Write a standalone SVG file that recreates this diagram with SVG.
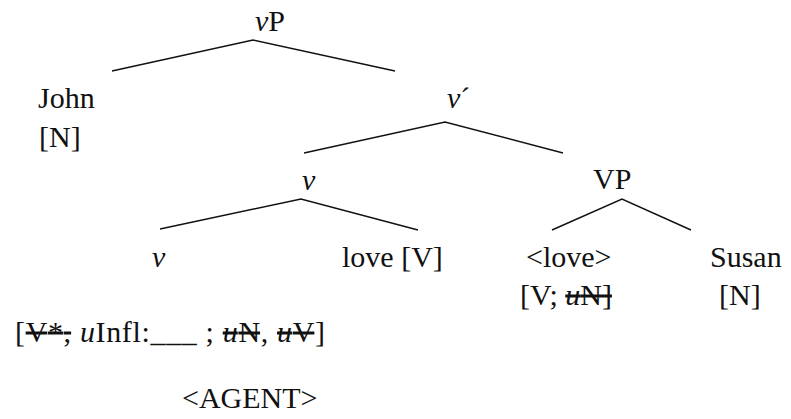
<svg xmlns="http://www.w3.org/2000/svg" width="791" height="419" viewBox="0 0 791 419">
<style>
text{font-family:"Liberation Serif","Times New Roman",serif;font-size:30px;fill:#111;}
.i{font-style:italic;}
.s{text-decoration:line-through;}
.edge{fill:none;stroke:#111;stroke-width:1.4;}
</style>
<rect width="791" height="419" fill="#fff"/>
<g id="connectors">
<polyline class="edge" points="112,71 253,40 395,71"/>
<polyline class="edge" points="304,153 445,122 563,153"/>
<polyline class="edge" points="160,229 301,199 418,230"/>
<polyline class="edge" points="552,230 622,199 691,230"/>
</g>
<g id="node-vP"><text x="255" y="31"><tspan class="i">v</tspan>P</text></g>
<g id="node-John"><text x="38" y="108">John</text><text x="39" y="147">[N]</text></g>
<g id="node-vbar"><text x="447" y="108"><tspan class="i">v</tspan>´</text></g>
<g id="node-v"><text x="302" y="190" class="i">v</text></g>
<g id="node-VP"><text x="593" y="189">VP</text></g>
<g id="node-v-leaf"><text x="152" y="267" class="i">v</text></g>
<g id="node-love"><text x="342" y="267">love [V]</text></g>
<g id="node-love-trace"><text x="526" y="267">&lt;love&gt;</text><text x="520" y="305">[V; <tspan class="s"><tspan class="i">u</tspan>N]</tspan></text></g>
<g id="node-Susan"><text x="710" y="267">Susan</text><text x="719" y="305">[N]</text></g>
<g id="features"><text x="15" y="342" textLength="310" lengthAdjust="spacing">[<tspan class="s">V*,</tspan> <tspan class="i">u</tspan>Infl:___ ; <tspan class="s"><tspan class="i">u</tspan>N</tspan>, <tspan class="s"><tspan class="i">u</tspan>V</tspan>]</text></g>
<g id="agent"><text x="182" y="408">&lt;AGENT&gt;</text></g>
</svg>
